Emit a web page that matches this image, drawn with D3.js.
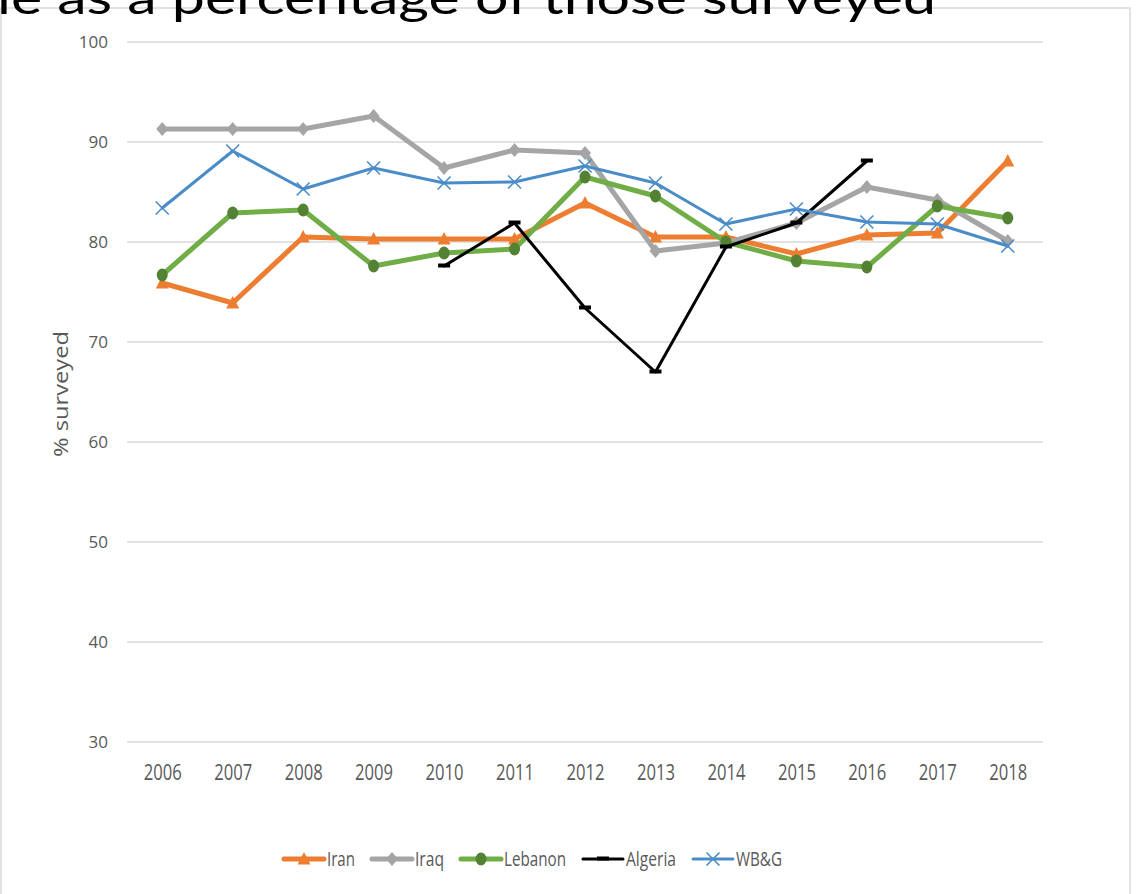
<!DOCTYPE html>
<html>
<head>
<meta charset="utf-8">
<script src="https://cdn.jsdelivr.net/npm/d3@7/dist/d3.min.js"></script>
<style>
  html, body { margin: 0; padding: 0; background: #fff; }
  svg { display: block; }
</style>
</head>
<body>
<svg id="chart" width="1139" height="894"></svg>
<script>
// Survey share by year, per country
const years = ["2006","2007","2008","2009","2010","2011","2012","2013","2014","2015","2016","2017","2018"];
const yTicks = [30, 40, 50, 60, 70, 80, 90, 100];

const iran    = [75.9, 73.9, 80.5, 80.3, 80.3, 80.3, 83.9, 80.5, 80.5, 78.8, 80.7, 80.9, 88.1];
const iraq    = [91.3, 91.3, 91.3, 92.6, 87.4, 89.2, 88.9, 79.1, 79.9, 81.9, 85.5, 84.2, 80.1];
const lebanon = [76.7, 82.9, 83.2, 77.6, 78.9, 79.3, 86.5, 84.6, 80.0, 78.1, 77.5, 83.6, 82.4];
const algeria = [null, null, null, null, 77.6, 81.9, 73.4, 67.0, 79.5, 81.9, 88.1, null, null];
const wbg     = [83.4, 89.1, 85.3, 87.4, 85.9, 86.0, 87.6, 85.9, 81.8, 83.3, 82.0, 81.8, 79.6];

const seriesNames = ["Iran", "Iraq", "Lebanon", "Algeria", "WB&G"];
const seriesValues = [iran, iraq, lebanon, algeria, wbg];

const styles = {
  "Iran":    { line: "#ED7D31", width: 5, marker: "triangle", fill: "#ED7D31" },
  "Iraq":    { line: "#A5A5A5", width: 5, marker: "diamond",  fill: "#A5A5A5" },
  "Lebanon": { line: "#70AD47", width: 5, marker: "circle",   fill: "#548235" },
  "Algeria": { line: "#000000", width: 3, marker: "dash",     fill: "#000000" },
  "WB&G":    { line: "#4A8CC8", width: 3, marker: "x",        fill: "#4A8CC8" }
};

const svg = d3.select("#chart");

// chart frame
svg.append("rect")
  .attr("x", 1).attr("y", 8).attr("width", 1129).attr("height", 900)
  .attr("fill", "none").attr("stroke", "#D9D9D9").attr("stroke-width", 1.5);

// clipped title
svg.append("text")
  .attr("x", -3).attr("y", 14)
  .attr("font-family", "Lato, 'Open Sans', sans-serif")
  .attr("font-size", 46)
  .attr("fill", "#000")
  .attr("textLength", 939)
  .attr("lengthAdjust", "spacingAndGlyphs")
  .text("le as a percentage of those surveyed");

const x = d3.scalePoint().domain(years).range([127, 1043]).padding(0.5);
const y = d3.scaleLinear().domain([30, 100]).range([742, 42]);

// gridlines
svg.append("g")
  .selectAll("line").data(yTicks).join("line")
  .attr("x1", 127).attr("x2", 1043)
  .attr("y1", d => y(d)).attr("y2", d => y(d))
  .attr("stroke", "#D9D9D9").attr("stroke-width", 1.5);

// y axis labels
const yAxis = svg.append("g")
  .attr("transform", "translate(127,0)")
  .call(d3.axisLeft(y).tickValues(yTicks).tickSize(0).tickPadding(19));
yAxis.select(".domain").remove();
yAxis.selectAll("text")
  .attr("font-family", "'Open Sans', sans-serif")
  .attr("font-size", 17)
  .attr("fill", "#595959");

// x axis labels
const xAxis = svg.append("g")
  .attr("transform", "translate(0,742)")
  .call(d3.axisBottom(x).tickSize(0).tickPadding(23));
xAxis.select(".domain").remove();
xAxis.selectAll("text")
  .attr("font-family", "'Liberation Sans Narrow', 'Open Sans', sans-serif")
  .attr("font-size", 21)
  .attr("fill", "#595959")
  .attr("textLength", 38)
  .attr("lengthAdjust", "spacingAndGlyphs");

// y axis title
svg.append("text")
  .attr("transform", "translate(68,394) rotate(-90)")
  .attr("text-anchor", "middle")
  .attr("font-family", "'Open Sans', sans-serif")
  .attr("font-size", 20)
  .attr("fill", "#595959")
  .attr("textLength", 126)
  .attr("lengthAdjust", "spacingAndGlyphs")
  .text("% surveyed");

function drawMarker(g, kind, st, cx, cy, scale) {
  const s = scale || 1;
  if (kind === "triangle") {
    g.append("path")
      .attr("d", `M${cx},${cy - 7 * s} L${cx + 6.5 * s},${cy + 5.5 * s} L${cx - 6.5 * s},${cy + 5.5 * s} Z`)
      .attr("fill", st.fill);
  } else if (kind === "diamond") {
    g.append("path")
      .attr("d", `M${cx},${cy - 7 * s} L${cx + 6 * s},${cy} L${cx},${cy + 7 * s} L${cx - 6 * s},${cy} Z`)
      .attr("fill", st.fill);
  } else if (kind === "circle") {
    g.append("ellipse")
      .attr("cx", cx).attr("cy", cy).attr("rx", 5.5 * s).attr("ry", 6.5 * s)
      .attr("fill", st.fill);
  } else if (kind === "dash") {
    g.append("rect")
      .attr("x", cx - 6 * s).attr("y", cy - 2.5 * s)
      .attr("width", 12 * s).attr("height", 4 * s)
      .attr("fill", st.fill);
  } else if (kind === "x") {
    const r = 6.5 * s;
    g.append("path")
      .attr("d", `M${cx - r},${cy - r} L${cx + r},${cy + r} M${cx - r},${cy + r} L${cx + r},${cy - r}`)
      .attr("stroke", st.fill).attr("stroke-width", 1.6).attr("fill", "none");
  }
}

const line = d3.line()
  .defined(d => d.v != null)
  .x(d => x(d.year))
  .y(d => y(d.v));

seriesNames.forEach((name, i) => {
  const st = styles[name];
  const pts = years.map((yr, j) => ({ year: yr, v: seriesValues[i][j] }));
  const g = svg.append("g");
  g.append("path")
    .datum(pts)
    .attr("d", line)
    .attr("fill", "none")
    .attr("stroke", st.line)
    .attr("stroke-width", st.width)
    .attr("stroke-linejoin", "round")
    .attr("stroke-linecap", "round");
  pts.filter(p => p.v != null).forEach(p => {
    drawMarker(g, st.marker, st, x(p.year), y(p.v), 1);
  });
});

// legend
const legend = svg.append("g");
const legendY = 859;
const legendTextLen = { "Iran": 28, "Iraq": 29, "Lebanon": 62, "Algeria": 50, "WB&G": 46 };
let lx = 284;
seriesNames.forEach(name => {
  const st = styles[name];
  const g = legend.append("g");
  g.append("line")
    .attr("x1", lx).attr("x2", lx + 40)
    .attr("y1", legendY).attr("y2", legendY)
    .attr("stroke", st.line).attr("stroke-width", st.width)
    .attr("stroke-linecap", "round");
  drawMarker(g, st.marker, st, lx + 20, legendY, 1);
  g.append("text")
    .attr("x", lx + 43).attr("y", legendY + 7)
    .attr("font-family", "'Liberation Sans Narrow', 'Open Sans', sans-serif")
    .attr("font-size", 20)
    .attr("fill", "#595959")
    .attr("textLength", legendTextLen[name])
    .attr("lengthAdjust", "spacingAndGlyphs")
    .text(name);
  lx += 43 + legendTextLen[name] + 17;
});
</script>
</body>
</html>
